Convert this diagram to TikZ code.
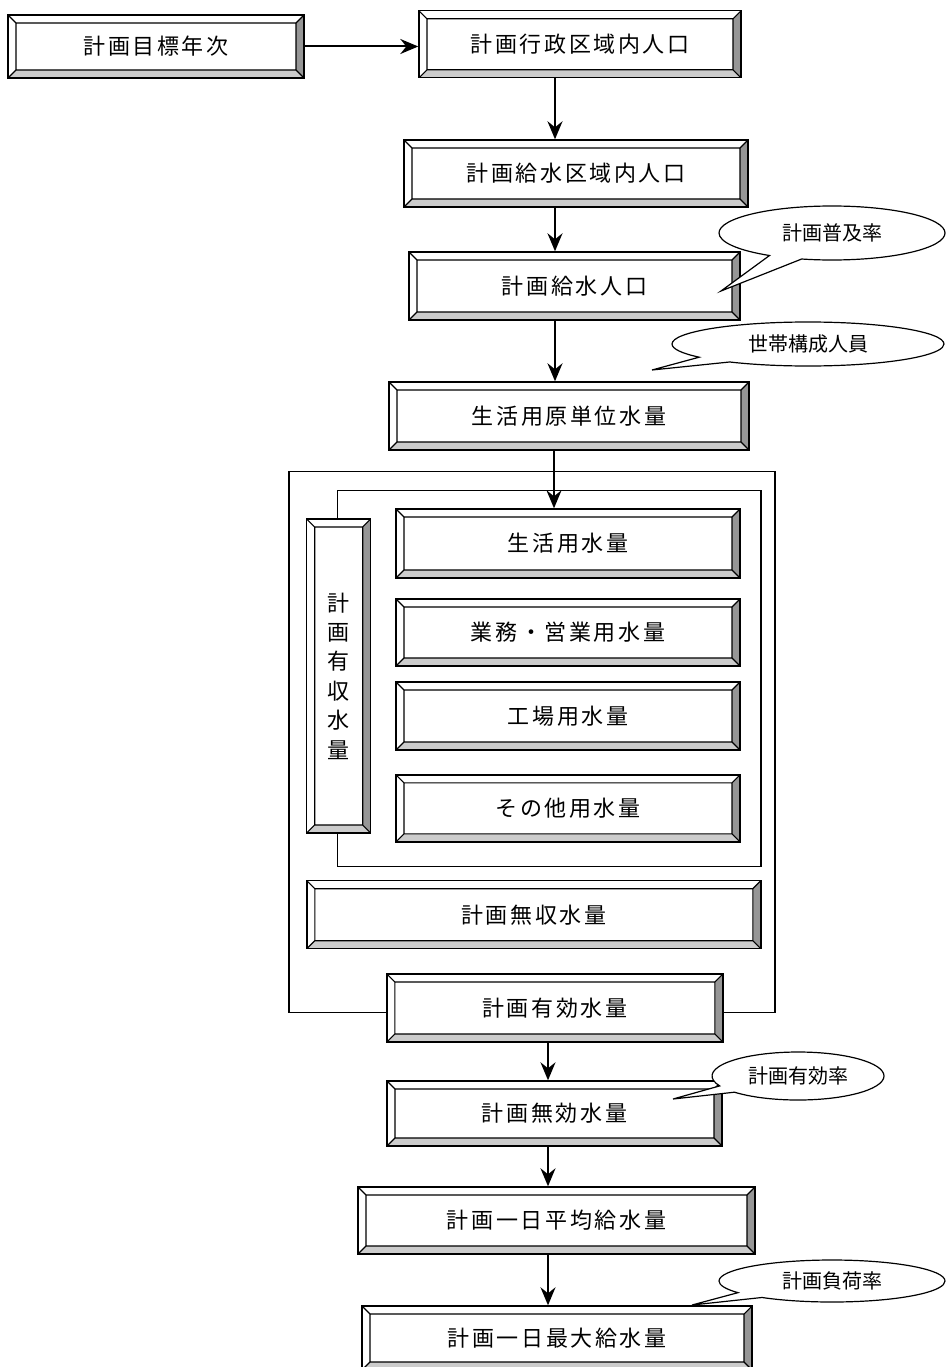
\documentclass[tikz,border=0pt]{standalone}
\usepackage{fontspec}
\newfontfamily\jp{Noto Sans CJK JP}
\newfontfamily\jpwide[LetterSpace=12]{Noto Sans CJK JP}
\usepackage{tikz}
\usetikzlibrary{arrows.meta,calc,shapes.callouts}
\definecolor{bevdark}{RGB}{150,150,150}
\definecolor{bevlight}{RGB}{204,204,204}

\tikzset{
  bevelbox/.style={draw, fill=white, line width=1.4pt, inner sep=0pt,
    font=\jpwide\fontsize{22}{26}\selectfont,
    path picture={
      \path (path picture bounding box.north west) coordinate (pA)
            (path picture bounding box.north east) coordinate (pB)
            (path picture bounding box.south east) coordinate (pC)
            (path picture bounding box.south west) coordinate (pD);
      \path ($(pA)+(8,-8)$) coordinate (pa) ($(pB)+(-8,-8)$) coordinate (pb)
            ($(pC)+(-8,8)$) coordinate (pc) ($(pD)+(8,8)$) coordinate (pd);
      \fill[bevdark] (pB) -- (pb) -- (pc) -- (pC) -- cycle;
      \fill[bevlight] (pD) -- (pd) -- (pc) -- (pC) -- cycle;
      \draw[line width=1.1pt] (pa) rectangle (pc)
        (pA) -- (pa) (pB) -- (pb) (pC) -- (pc) (pD) -- (pd);
    }},
  balloon/.style={ellipse callout, draw, fill=white, line width=1.2pt,
    inner sep=0pt, callout pointer arc=18,
    font=\jp\fontsize{20}{24}\selectfont},
  flow/.style={-{Stealth[length=18pt,width=15pt,inset=6pt]}, line width=2pt},
  frame/.style={draw, line width=1.3pt},
}

\begin{document}
\begin{tikzpicture}[x=1pt,y=1pt]
  \useasboundingbox (0,0) rectangle (946,-1367);

  % frames round the water quantities
  \draw[frame] (289,-471.7) rectangle (775,-1012.7);
  \draw[frame] (337.5,-490.7) rectangle (761,-866.7);

  % upper chain
  \node[bevelbox, minimum width=296, minimum height=63] (target) at (156,-46.5) {計画目標年次};
  \node[bevelbox, minimum width=322, minimum height=67] (admin) at (580,-44.3) {計画行政区域内人口};
  \node[bevelbox, minimum width=344, minimum height=67] (area) at (576,-173.5) {計画給水区域内人口};
  \node[bevelbox, minimum width=331, minimum height=68] (served) at (574.5,-286) {計画給水人口};
  \node[bevelbox, minimum width=360, minimum height=68] (unit) at (569,-416) {生活用原単位水量};

  % revenue water block
  \node[bevelbox, minimum width=64, minimum height=314, align=center,
        font=\jp\fontsize{22}{29.4}\selectfont] (revenue) at (338.7,-676)
        {計\\画\\有\\収\\水\\量};
  \node[bevelbox, minimum width=344, minimum height=69] (home) at (568,-543.5) {生活用水量};
  \node[bevelbox, minimum width=344, minimum height=67] (office) at (568,-632.5) {業務・営業用水量};
  \node[bevelbox, minimum width=344, minimum height=68] (factory) at (568,-716) {工場用水量};
  \node[bevelbox, minimum width=344, minimum height=67] (other) at (568,-808.3) {その他用水量};
  \node[bevelbox, minimum width=454, minimum height=68] (nonrev) at (533.8,-914.7) {計画無収水量};

  % lower chain
  \node[bevelbox, minimum width=336, minimum height=68] (effective) at (554.8,-1008) {計画有効水量};
  \node[bevelbox, minimum width=335, minimum height=65] (invalid) at (554.5,-1113.5) {計画無効水量};
  \node[bevelbox, minimum width=397, minimum height=67] (dayavg) at (556.5,-1220.5) {計画一日平均給水量};
  \node[bevelbox, minimum width=390, minimum height=64] (daymax) at (557,-1338) {計画一日最大給水量};

  % arrows
  \coordinate (upx) at (555,0);
  \coordinate (lowx) at (548,0);
  \draw[flow] (target.east) -- (target.east -| admin.west);
  \draw[flow] (admin.south -| upx) -- (area.north -| upx);
  \draw[flow] (area.south -| upx) -- (served.north -| upx);
  \draw[flow] (served.south -| upx) -- (unit.north -| upx);
  \draw[flow] (unit.south -| 554,0) -- (home.north -| 554,0);
  \draw[flow] (effective.south -| lowx) -- (invalid.north -| lowx);
  \draw[flow] (invalid.south -| lowx) -- (dayavg.north -| lowx);
  \draw[flow] (dayavg.south -| lowx) -- (daymax.north -| lowx);

  % balloons
  \coordinate (tipA) at (721,-291);
  \coordinate (tipB) at (652,-370);
  \coordinate (tipC) at (673,-1099);
  \coordinate (tipD) at (692,-1305);
  \node[balloon, minimum width=226, minimum height=54, callout absolute pointer=(tipA)] (spread) at (832,-233) {計画普及率};
  \node[balloon, minimum width=272, minimum height=44, callout absolute pointer=(tipB)] (household) at (808,-344) {世帯構成人員};
  \node[balloon, minimum width=172, minimum height=48, callout absolute pointer=(tipC)] (effrate) at (798,-1076) {計画有効率};
  \node[balloon, minimum width=226, minimum height=42, callout absolute pointer=(tipD)] (loadrate) at (832,-1281) {計画負荷率};
\end{tikzpicture}
\end{document}
